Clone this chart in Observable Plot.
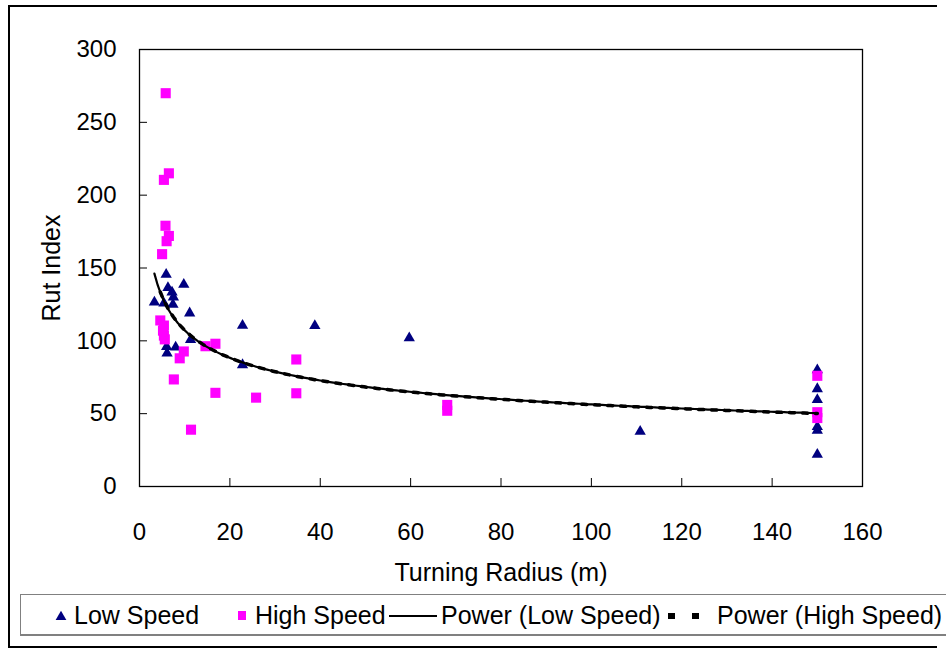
<!DOCTYPE html>
<html><head><meta charset="utf-8">
<script src="https://cdn.jsdelivr.net/npm/d3@7"></script>
<script src="https://cdn.jsdelivr.net/npm/@observablehq/plot@0.6"></script>
<style>
body{margin:0;background:#fff;font-family:"Liberation Sans",Arial,sans-serif;}
#wrap{position:relative;width:946px;height:650px;overflow:hidden;background:#fff;}
#border{position:absolute;left:8px;top:5px;width:929px;height:643px;border:2px solid #000;border-right:none;box-sizing:border-box;}
#chart{position:absolute;left:0;top:0;}
#legend{position:absolute;left:20px;top:594px;width:940px;height:42px;border:1px solid #808080;border-bottom:2px solid #808080;box-sizing:border-box;background:#fff;}
</style></head>
<body><div id="wrap"><div id="border"></div><div id="chart"></div><div id="legend"></div></div>
<script>
// Data
const lowX = [5.9, 6.3, 7.2, 9.8, 3.3, 5.4, 7.5, 7.4, 11.1, 11.3, 6.0, 8.0, 6.1, 22.8, 22.8, 38.8, 59.7, 110.8, 150, 150, 150, 150, 150, 150];
const lowY = [145.5, 136.4, 133.4, 138.7, 126.5, 125.8, 130, 125, 119, 100.7, 96, 95.6, 91.5, 110.5, 83.5, 110.3, 102, 37.8, 80, 67, 59.5, 41, 38.5, 22];
const highX = [5.8, 6.5, 5.4, 5.75, 6.5, 6.0, 5.0, 4.6, 5.4, 5.2, 5.4, 5.6, 9.8, 8.9, 7.6, 11.4, 14.6, 16.8, 16.8, 25.8, 34.7, 34.7, 68.1, 68.1, 150, 150, 150];
const highY = [270, 215, 210.5, 179, 172, 168.4, 159.5, 114, 110.5, 107, 103.6, 101, 92.7, 88, 73.5, 39, 96.3, 98, 64.3, 61, 87.2, 64, 56, 52, 76, 51, 47];
// power trendlines y = a * x^b, coefficients
const lowFit = {a: 204, b: -0.2794};
const highFit = {a: 205, b: -0.281};
const xTicks = [0, 20, 40, 60, 80, 100, 120, 140, 160];
const yTicks = [0, 50, 100, 150, 200, 250, 300];
const seriesNames = ["Low Speed", "High Speed", "Power (Low Speed)", "Power (High Speed)"];
const xLabel = "Turning Radius (m)";
const yLabel = "Rut Index";

const low = lowX.map((x, i) => ({x, y: lowY[i]}));
const high = highX.map((x, i) => ({x, y: highY[i]}));

function fitCurve(xs, f) {
  const [x0, x1] = d3.extent(xs);
  return d3.range(0, 201).map(i => { const x = x0 + (x1-x0)*i/200; return {x, y: f.a*Math.pow(x, f.b)}; });
}
const lowCurve = fitCurve(lowX, lowFit);
const highCurve = fitCurve(highX, highFit);

const font = '"Liberation Sans", Arial, sans-serif';
const chart = Plot.plot({
  width: 946, height: 650,
  marginLeft: 139, marginRight: 84, marginTop: 49, marginBottom: 164,
  style: {fontFamily: font, fontSize: "24px", color: "#000", background: "transparent", overflow: "visible"},
  x: {domain: [0, 160]},
  y: {domain: [0, 300]},
  marks: [
    Plot.frame({stroke: "#000", strokeWidth: 1.3}),
    Plot.axisX(xTicks, {tickSize: -8, tickPadding: 44, fontSize: 24, tickFormat: d => String(d), label: null}),
    Plot.axisX({ticks: [], label: xLabel, labelAnchor: "center", labelOffset: 94, labelArrow: "none", fontSize: 25}),
    Plot.axisY(yTicks, {tickSize: -8, tickPadding: 31, fontSize: 24, tickFormat: d => String(d), label: null}),
    Plot.axisY({ticks: [], label: yLabel, labelAnchor: "center", labelOffset: 97, labelArrow: "none", fontSize: 25}),
    Plot.dot(low, {x: "x", y: "y", symbol: "triangle", r: 4.2, fill: "#000080", stroke: "none"}),
    Plot.dot(high, {x: "x", y: "y", symbol: "square", r: 5.7, fill: "#ff00ff", stroke: "none"}),
    Plot.line(highCurve, {x: "x", y: "y", stroke: "#000", strokeWidth: 3.5, strokeDasharray: "5,8"}),
    Plot.line(lowCurve, {x: "x", y: "y", stroke: "#000", strokeWidth: 2.2})
  ]
});
document.getElementById("chart").appendChild(chart);

// legend
const lg = d3.select("#legend").append("svg").attr("width", 940).attr("height", 40).style("position","absolute").style("left","-1px").style("top","-1px");
const cy = 22;
lg.append("path").attr("d", d3.symbol(d3.symbolTriangle, 50)()).attr("transform", `translate(41,${cy+1})`).attr("fill", "#000080");
lg.append("rect").attr("x", 218).attr("y", cy-5).attr("width", 8).attr("height", 9).attr("fill", "#ff00ff");
lg.append("line").attr("x1", 369).attr("x2", 417).attr("y1", cy).attr("y2", cy).attr("stroke", "#000").attr("stroke-width", 2);
lg.append("line").attr("x1", 648).attr("x2", 686).attr("y1", cy).attr("y2", cy).attr("stroke", "#000").attr("stroke-width", 6).attr("stroke-dasharray", "7,17");
const tx = [54, 235, 421, 697];
seriesNames.forEach((s, i) => lg.append("text").attr("x", tx[i]).attr("y", cy + 8).attr("font-family", font).attr("font-size", 25).text(s));
</script></body></html>
